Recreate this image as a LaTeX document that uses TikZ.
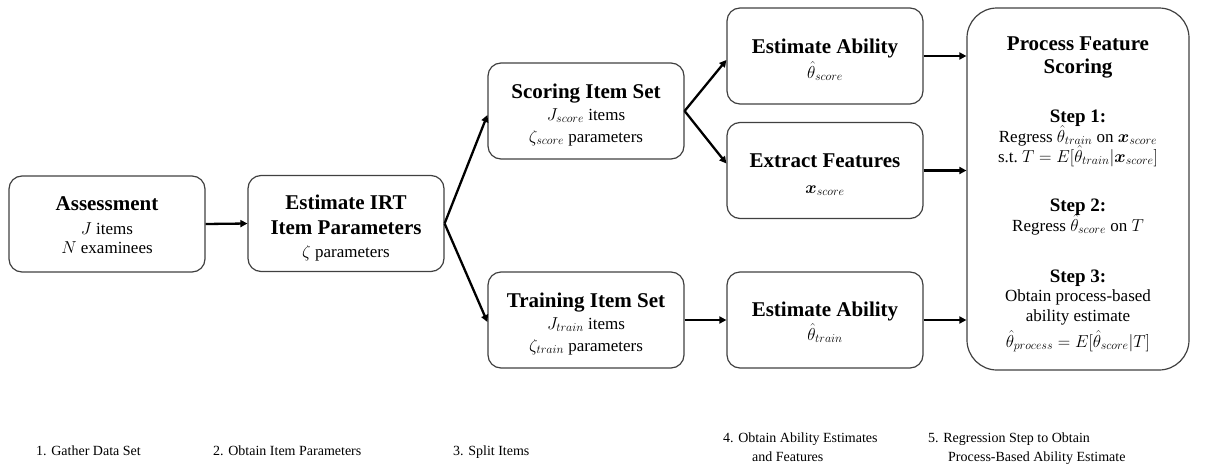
\documentclass[tikz,border=0pt]{standalone}
\usepackage{amsmath,bm}
\usepackage{fontspec}
\IfFontExistsTF{LiberationSerif-Regular.ttf}
  {\setmainfont{LiberationSerif}[Extension=.ttf,
     UprightFont=*-Regular, BoldFont=*-Bold,
     ItalicFont=*-Italic, BoldItalicFont=*-BoldItalic]}
  {\setmainfont{Liberation Serif}}
\usetikzlibrary{arrows.meta}
\tikzset{
  box/.style={draw=black!75, line width=1.2pt, rounded corners=13pt,
              minimum width=196pt, minimum height=96pt, inner sep=0pt},
  bigbox/.style={box, rounded corners=30pt, minimum width=222pt, minimum height=362pt},
  flow/.style={line width=2.3pt, -{Triangle[length=7pt,width=7pt]}},
  ttl/.style={anchor=base, inner sep=0pt, font=\fontsize{21}{25}\selectfont\bfseries},
  stp/.style={anchor=base, inner sep=0pt, font=\fontsize{19}{22}\selectfont\bfseries},
  txt/.style={anchor=base, inner sep=0pt, font=\fontsize{17}{20}\selectfont},
  caption/.style={anchor=base west, inner sep=0pt, font=\fontsize{14}{20}\selectfont}
}
\begin{document}
\begin{tikzpicture}[x=1pt,y=-1pt]
\useasboundingbox (0,0) rectangle (1219,466);

% process boxes
\node[box] (assess) at (107,224) {};
\node[box] (irt) at (346,223.5) {};
\node[box] (scoring) at (586,111) {};
\node[box] (training) at (586,320) {};
\node[box] (abilscore) at (825,56) {};
\node[box] (features) at (825,170.5) {};
\node[box] (abiltrain) at (825,320) {};
\node[bigbox] (pfs) at (1078,189) {};

% box texts
\node[ttl] (assess1) at (107,210) {Assessment};
\node[txt] (assess2) at (107,234) {$J$ items};
\node[txt] (assess3) at (107,253) {$N$ examinees};

\node[ttl] (irt1) at (346,209) {Estimate IRT};
\node[ttl] (irt2) at (346,234) {Item Parameters};
\node[txt] (irt3) at (346,257) {$\zeta$ parameters};

\node[ttl] (scoring1) at (586,98) {Scoring Item Set};
\node[txt] (scoring2) at (586,120) {$J_{score}$ items};
\node[txt] (scoring3) at (586,142) {$\zeta_{score}$ parameters};

\node[ttl] (training1) at (586,307) {Training Item Set};
\node[txt] (training2) at (586,329) {$J_{train}$ items};
\node[txt] (training3) at (586,351) {$\zeta_{train}$ parameters};

\node[ttl] (abilscore1) at (825,53) {Estimate Ability};
\node[txt] (abilscore2) at (825,78) {$\hat{\theta}_{score}$};

\node[ttl] (features1) at (825,167) {Extract Features};
\node[txt] (features2) at (825,193) {$\bm{x}_{score}$};

\node[ttl] (abiltrain1) at (825,316) {Estimate Ability};
\node[txt] (abiltrain2) at (825,340) {$\hat{\theta}_{train}$};

% scoring procedure
\node[ttl] (pfs1) at (1078,50) {Process Feature};
\node[ttl] (pfs2) at (1078,73) {Scoring};
\node[stp] (pfs3) at (1078,122) {Step 1:};
\node[txt] (pfs4) at (1078,142) {Regress $\hat{\theta}_{train}$ on $\bm{x}_{score}$};
\node[txt] (pfs5) at (1078,162) {s.t.\ $T=E[\hat{\theta}_{train}|\bm{x}_{score}]$};
\node[stp] (pfs6) at (1078,211) {Step 2:};
\node[txt] (pfs7) at (1078,231) {Regress $\hat{\theta}_{score}$ on $T$};
\node[stp] (pfs8) at (1078,282) {Step 3:};
\node[txt] (pfs9) at (1078,301) {Obtain process-based};
\node[txt] (pfs10) at (1078,321) {ability estimate};
\node[txt] (pfs11) at (1078,347) {$\hat{\theta}_{process}=E[\hat{\theta}_{score}|T]$};

% connectors
\draw[flow] (assess.east) -- (irt.west);
\draw[flow] (irt.east) -- ([yshift=-4pt]scoring.west);
\draw[flow] (irt.east) -- ([yshift=-2pt]training.west);
\draw[flow] (scoring.east) -- ([yshift=-4pt]abilscore.west);
\draw[flow] (scoring.east) -- ([yshift=7pt]features.west);
\draw[flow] (training.east) -- (abiltrain.west);
\draw[flow] (abilscore.east) -- (abilscore.east -| pfs.west);
\draw[flow] (features.east) -- (features.east -| pfs.west);
\draw[flow] (abiltrain.east) -- (abiltrain.east -| pfs.west);

% stage captions
\node[caption] (cap1) at (36,455) {1. Gather Data Set};
\node[caption] (cap2) at (213,455) {2. Obtain Item Parameters};
\node[caption] (cap3) at (453,455) {3. Split Items};
\node[caption] (cap4a) at (723,442) {4. Obtain Ability Estimates};
\node[caption] (cap4b) at (752,461) {and Features};
\node[caption] (cap5a) at (928,442) {5. Regression Step to Obtain};
\node[caption] (cap5b) at (948,461) {Process-Based Ability Estimate};
\end{tikzpicture}
\end{document}
